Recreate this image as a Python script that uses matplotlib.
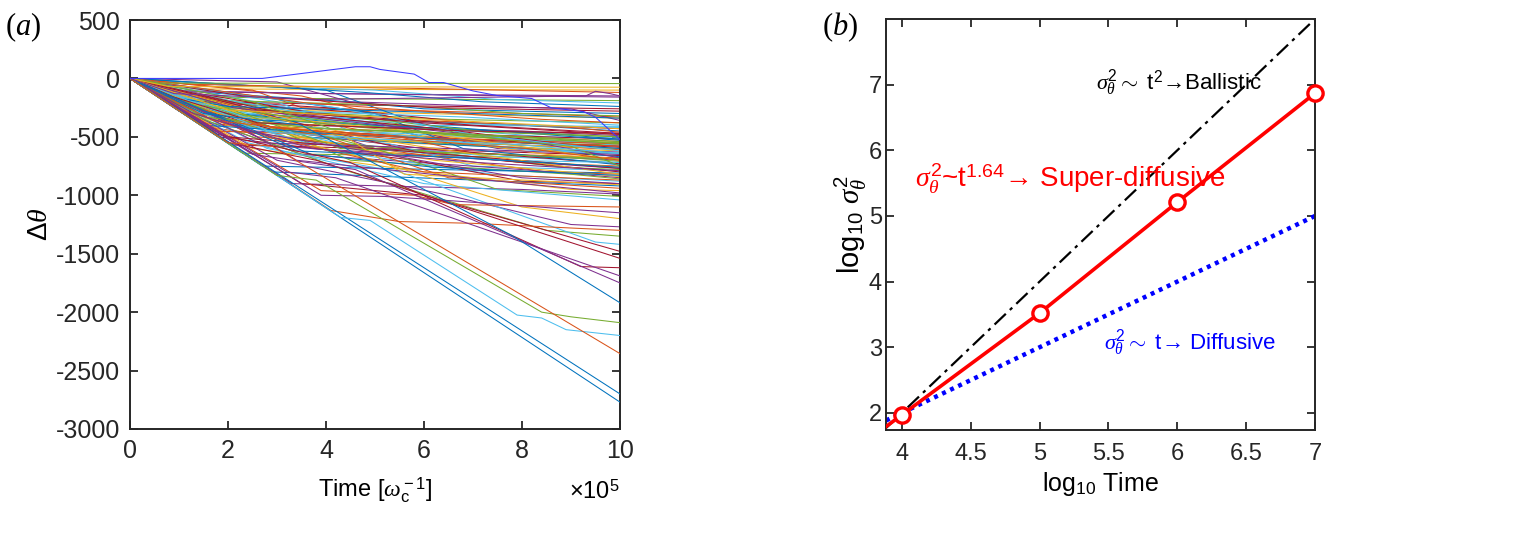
import matplotlib
matplotlib.use("Agg")
import matplotlib.pyplot as plt
import numpy as np

plt.rcParams['font.family'] = ['Liberation Sans', 'DejaVu Sans']
plt.rcParams['mathtext.fontset'] = 'custom'
plt.rcParams['mathtext.rm'] = 'Liberation Sans'
plt.rcParams['mathtext.it'] = 'Liberation Serif:italic'
plt.rcParams['mathtext.sf'] = 'Liberation Sans'
plt.rcParams['mathtext.bf'] = 'Liberation Sans:bold'
plt.rcParams['axes.unicode_minus'] = False

# ---------------- data: panel (a) ----------------
# time in units of 1e5 [omega_c^-1], each trajectory as (t, dtheta) breakpoints
trajectories = [
    [(0,0),(0.6,-40),(10,-44)],
    [(0,0),(0.8,-70),(10,-75)],
    [(0,0),(1.2,-90),(6,-95),(10,-100)],
    [(0,0),(0.5,-100),(4,-130),(10,-150)],
    [(0,0),(1.0,-150),(3,-170),(7,-180),(10,-190)],
    [(0,0),(2.0,-60),(5,-100),(7.5,-180),(10,-210)],
    [(0,0),(0.7,-190),(5,-230),(10,-260)],
    [(0,0),(1.5,-120),(4.5,-200),(6,-260),(10,-300)],
    [(0,0),(2.5,-100),(3.5,-250),(8,-300),(10,-330)],
    [(0,0),(1.0,-250),(6,-300),(10,-340)],
    [(0,0),(3,-30),(4.5,-200),(9,-260),(10,-360)],
    [(0,0),(1.2,-200),(3.0,-280),(6.5,-350),(10,-380)],
    [(0,0),(0.9,-250),(2.5,-300),(5.5,-400),(10,-410)],
    [(0,0),(2.0,-200),(4,-250),(7,-380),(10,-430)],
    [(0,0),(1.8,-300),(5,-350),(8,-400),(10,-450)],
    [(0,0),(3.5,-150),(5.5,-350),(9,-420),(10,-460)],
    [(0,0),(1.3,-350),(4,-400),(10,-480)],
    [(0,0),(2.2,-250),(3.5,-400),(8,-450),(10,-490)],
    [(0,0),(0.5,-120),(4,-300),(6,-420),(10,-500)],
    [(0,0),(2.8,-350),(6,-420),(8.5,-500),(10,-510)],
    [(0,0),(1.5,-200),(5,-300),(7,-480),(10,-520)],
    [(0,0),(4,-100),(6,-400),(10,-530)],
    [(0,0),(1.9,-400),(5.5,-450),(10,-540)],
    [(0,0),(1.1,-300),(3,-350),(4.5,-470),(10,-550)],
    [(0,0),(2.5,-450),(7,-520),(10,-560)],
    [(0,0),(1.6,-150),(3.2,-300),(6.5,-450),(8,-550),(10,-570)],
    [(0,0),(3,-200),(4.5,-450),(9.5,-550),(10,-580)],
    [(0,0),(0.8,-200),(2.5,-420),(6,-500),(10,-590)],
    [(0,0),(2,-300),(5,-400),(6.5,-550),(10,-600)],
    [(0,0),(1.4,-380),(4,-450),(8,-570),(10,-610)],
    [(0,0),(3.2,-500),(6,-560),(10,-620)],
    [(0,0),(2.4,-250),(5,-380),(7.5,-600),(10,-630)],
    [(0,0),(1.0,-270),(4,-500),(10,-640)],
    [(0,0),(4.5,-350),(6.5,-550),(10,-650)],
    [(0,0),(2.1,-570),(7,-620),(10,-660)],
    [(0,0),(1.7,-250),(3.5,-500),(8,-600),(10,-670)],
    [(0,0),(2.8,-300),(5.5,-500),(7,-640),(10,-680)],
    [(0,0),(1.2,-330),(6,-500),(8.5,-650),(10,-690)],
    [(0,0),(3.6,-400),(5,-600),(10,-700)],
    [(0,0),(2.3,-640),(9,-680),(10,-710)],
    [(0,0),(1.5,-300),(4.2,-550),(7.2,-660),(10,-720)],
    [(0,0),(0.9,-200),(3,-450),(6,-600),(9,-700),(10,-730)],
    [(0,0),(5,-300),(6.8,-600),(10,-740)],
    [(0,0),(2.6,-500),(5.5,-600),(8,-720),(10,-750)],
    [(0,0),(1.9,-350),(4.8,-620),(10,-760)],
    [(0,0),(3.0,-580),(7.5,-700),(10,-770)],
    [(0,0),(1.3,-250),(3.3,-520),(6,-620),(8.8,-760),(10,-780)],
    [(0,0),(2.0,-400),(5.3,-560),(7,-750),(10,-790)],
    [(0,0),(4,-450),(6,-640),(10,-800)],
    [(0,0),(2.7,-750),(10,-810)],
    [(0,0),(1.6,-420),(5,-600),(8.5,-800),(10,-820)],
    [(0,0),(3.4,-500),(6.2,-700),(10,-840)],
    [(0,0),(1.0,-280),(3.5,-650),(8,-780),(10,-850)],
    [(0,0),(2.2,-300),(4.5,-700),(9,-820),(10,-860)],
    [(0,0),(3.8,-600),(7.4,-820),(10,-880)],
    [(0,0),(1.8,-500),(5.8,-700),(8,-880),(10,-900)],
    [(0,0),(2.9,-800),(10,-920)],
    [(0,0),(1.4,-300),(4,-500),(6.5,-850),(10,-940)],
    [(0,0),(2.5,-600),(6,-800),(9,-950),(10,-960)],
    [(0,0),(3.3,-900),(8,-950),(10,-990)],
    [(0,0),(1.2,-200),(5,-600),(7.5,-950),(10,-1010)],
    [(0,0),(2.4,-550),(6,-900),(10,-1040)],
    [(0,0),(3.9,-960),(5.8,-1000),(6.6,-1080),(10,-1100)],
    [(0,0),(3.9,-1000),(5.2,-1010),(6.5,-1045),(10,-1150)],
    [(0,0),(4.1,-1130),(5.5,-1225),(7,-1240),(10,-1300)],
    [(0,0),(2.0,-400),(5,-700),(8,-1100),(10,-1200)],
    [(0,0),(3.0,-700),(6.5,-1000),(9,-1250),(10,-1270)],
    [(0,0),(1.5,-350),(4.5,-800),(8.5,-1300),(10,-1350)],
    [(0,0),(2.8,-600),(5.5,-800),(9.5,-1400),(10,-1420)],
    [(0,0),(3.5,-900),(6,-1000),(10,-1480)],
    [(0,0),(2.0,-550),(3.8,-700),(10,-1540)],
    [(0,0),(1.8,-480),(4.5,-720),(9.2,-1610),(10,-1620)],
    [(0,0),(3.2,-800),(4.2,-850),(10,-1690)],
    [(0,0),(2.5,-650),(4.6,-780),(10,-1750)],
    [(0,0),(1.5,-300),(3.5,-400),(7.8,-1346),(10,-1920)],
    [(0,0),(10,-2770)],
    [(0,0),(10,-2700)],
    [(0,0),(4.3,-1190),(4.9,-1215),(7.9,-2025),(8.4,-2050),(8.9,-2150),(10,-2200)],
    [(0,0),(3.0,-830),(3.8,-870),(8.4,-2000),(9.0,-2040),(10,-2090)],
    [(0,0),(2.0,-550),(2.9,-580),(10,-2355)],
    [(0,0),(0.4,-110),(8,-150),(10,-160)],
    [(0,0),(1.1,-180),(5.5,-230),(8,-300),(10,-320)],
    [(0,0),(2.2,-330),(5,-370),(10,-420)],
    [(0,0),(1.0,-100),(3.8,-300),(7,-400),(10,-470)],
    [(0,0),(0.6,-160),(2.4,-350),(8.5,-470),(10,-520)],
    [(0,0),(1.7,-450),(10,-560)],
    [(0,0),(3.0,-400),(4.7,-520),(10,-600)],
    [(0,0),(2.6,-550),(6.5,-600),(10,-650)],
    [(0,0),(1.3,-150),(4.3,-600),(10,-690)],
    [(0,0),(0.8,-220),(3.6,-550),(7.6,-700),(10,-720)],
    [(0,0),(2.0,-500),(8.5,-720),(10,-770)],
    [(0,0),(3.7,-650),(6.2,-760),(10,-830)],
    [(0,0),(1.0,-260),(2.8,-500),(6,-800),(10,-870)],
    [(0,0),(4.4,-500),(5.6,-820),(10,-910)],
    [(0,0),(2.2,-400),(3.4,-700),(8,-900),(10,-980)],
    [(0,0),(1.6,-280),(4.2,-400),(7,-500),(10,-550)],
    [(0,0),(1.9,-180),(3.3,-280),(6.8,-330),(10,-400)],
    [(0,0),(2.3,-150),(6.2,-250),(10,-280)],
    [(0,0),(4.8,-120),(7.2,-200),(10,-240)],
    [(0,0),(1.2,-50),(6.4,-90),(10,-120)],
    [(0,0),(0.9,-130),(3.8,-180),(9.3,-150),(9.5,-110),(9.8,-130),(10,-150)],
    [(0,0),(2.7,0),(4.6,100),(4.9,100),(5.1,77),(5.8,37),(6.1,-35),(6.4,-35),
     (7.0,-107),(7.5,-147),(8.2,-172),(8.6,-252),(9.25,-283),(9.5,-332),(10,-523)],
    [(0,0),(1.4,-230),(4.6,-330),(7.3,-460),(10,-500)],
    [(0,0),(2.7,-380),(5.4,-480),(8.3,-620),(10,-640)],
    [(0,0),(3.1,-300),(6.3,-430),(8.8,-560),(10,-580)],
    [(0,0),(1.5,-400),(4.4,-480),(9.3,-580),(10,-600)],
    [(0,0),(0.7,-180),(2.9,-420),(6.0,-520),(10,-580)],
    [(0,0),(3.3,-350),(5.7,-450),(10,-700)],
    [(0,0),(2.1,-250),(4.0,-350),(7.9,-520),(10,-680)],
    [(0,0),(1.1,-220),(5.2,-420),(9,-580),(10,-750)],
    [(0,0),(4.2,-250),(7.0,-480),(10,-620)],
    [(0,0),(2.6,-270),(6.0,-380),(10,-480)],
    [(0,0),(0.6,-140),(2.0,-240),(7.0,-300),(10,-340)],
    [(0,0),(3.6,-210),(8.4,-350),(10,-380)],
    [(0,0),(1.8,-300),(5.9,-580),(10,-820)],
    [(0,0),(2.4,-450),(4.5,-600),(8.0,-850),(10,-900)],
    [(0,0),(1.5,-330),(3.9,-430),(6.6,-470),(10,-540)],
    [(0,0),(2.9,-460),(5.1,-520),(7.7,-560),(10,-640)],
    [(0,0),(0.9,-160),(2.6,-380),(6.9,-450),(10,-470)],
    [(0,0),(3.4,-620),(6.8,-680),(10,-760)],
    [(0,0),(1.7,-360),(4.9,-500),(8.1,-600),(10,-700)],
    [(0,0),(2.0,-270),(5.6,-340),(10,-430)],
    [(0,0),(1.3,-300),(3.7,-600),(7.1,-720),(10,-790)],
    [(0,0),(2.5,-200),(4.1,-430),(8.7,-520),(10,-560)],
]

matlab_colors = ['#0072BD', '#D95319', '#EDB120', '#7E2F8E', '#77AC30', '#4DBEEE', '#A2142F']
# colours of individually visible trajectories, as seen in the picture
special_colors = {74: '#0072BD', 75: '#0072BD', 76: '#0072BD', 77: '#4DBEEE',
                  78: '#77AC30', 79: '#D95319', 101: '#3b3bff',
                  100: '#7E2F8E', 72: '#7E2F8E', 73: '#7E2F8E', 70: '#A2142F', 71: '#A2142F',
                  0: '#77AC30', 1: '#EDB120', 62: '#D95319', 63: '#7E2F8E', 64: '#D95319'}

# ---------------- data: panel (b) ----------------
log_t = [4, 5, 6, 7]
log_var = [1.97, 3.52, 5.21, 6.87]
ballistic_x = [3.885, 7.0]
ballistic_y = [1.77, 8.0]
diffusive_x = [3.885, 7.0]
diffusive_y = [1.885, 5.0]

W, H = 1519, 557
fig = plt.figure(figsize=(W/100, H/100), dpi=100)

ax1 = fig.add_axes([130/W, 1-429/H, (620-130)/W, (429-20)/H])
ax2 = fig.add_axes([886/W, 1-430/H, (1315-886)/W, (430-19)/H])

for i, tr in enumerate(trajectories):
    t = [p[0] for p in tr]
    v = [p[1] for p in tr]
    c = special_colors.get(i, matlab_colors[i % 7])
    ax1.plot(t, v, color=c, lw=0.75, zorder=2 if i not in special_colors else 3)

ax1.set_xlim(0, 10)
ax1.set_ylim(-3000, 500)
ax1.set_xticks([0, 2, 4, 6, 8, 10])
ax1.set_yticks(np.arange(-3000, 501, 500))
ax1.set_xlabel(r'Time [$\omega_{\rm c}^{\rm -1}$]', fontsize=17, labelpad=9)
ax1.set_ylabel(r'$\Delta\theta$', fontsize=20, labelpad=2)

# panel b
ax2.plot(ballistic_x, ballistic_y, color='black', lw=1.6, ls=(0, (7, 2.5, 1.5, 2.5)), zorder=2)
ax2.plot(diffusive_x, diffusive_y, color='#0000ff', lw=3.2, ls=(0, (0.9, 1.1)), zorder=2)
slope0 = (log_var[1] - log_var[0]) / (log_t[1] - log_t[0])
ext_x = [3.80, log_t[0]]
ext_y = [log_var[0] - slope0 * (log_t[0] - 3.80), log_var[0]]
ax2.plot(ext_x, ext_y, color='#ff0000', lw=2.6, zorder=3)
ax2.plot(log_t, log_var, color='#ff0000', lw=2.6, marker='o', ms=11, mfc='white',
         mec='#ff0000', mew=2.4, zorder=4, clip_on=False)
ax2.set_xlim(3.885, 7.0)
ax2.set_ylim(1.74, 8.0)
ax2.set_xticks([4, 4.5, 5, 5.5, 6, 6.5, 7])
ax2.set_xticklabels(['4', '4.5', '5', '5.5', '6', '6.5', '7'])
ax2.set_yticks([2, 3, 4, 5, 6, 7])
ax2.set_xlabel(r'log$_{10}$ Time', fontsize=18, labelpad=4)
ax2.set_ylabel(r'log$_{10}$ $\sigma_\theta^2$', fontsize=21, labelpad=0)

ax2.text(5.41, 6.93, r'$\sigma_\theta^2$$\sim$ t$^2$→Ballistic', color='black', fontsize=16,
         ha='left', va='baseline')
ax2.text(4.097, 5.44, r'$\sigma_\theta^2$~t$^{1.64}$→ Super-diffusive', color='#ff0000', fontsize=20,
         ha='left', va='baseline')
ax2.text(5.47, 2.96, r'$\sigma_\theta^2$$\sim$ t→ Diffusive', color='#0000ff', fontsize=16,
         ha='left', va='baseline')

for ax in (ax1, ax2):
    for s in ax.spines.values():
        s.set_linewidth(1.4)
        s.set_color('#262626')
ax1.tick_params(direction='in', top=True, right=True, length=6, width=1.3,
                labelsize=18, color='#262626', labelcolor='#262626', pad=7)
ax2.tick_params(direction='in', top=True, right=True, length=6, width=1.3,
                labelsize=17, color='#262626', labelcolor='#262626')
ax2.tick_params(axis='x', pad=9)
ax2.tick_params(axis='y', pad=3)

fig.canvas.draw()
lb = ax1.xaxis.label.get_window_extent()
fig.text(620/W, (lb.y0 + 6)/H, r'$\times$10$^{5}$', ha='right', va='baseline', fontsize=17)

fig.text(5/W, 1-27/H, r'($\mathit{a}$)', fontsize=22, family='Liberation Serif', va='center', ha='left')
fig.text(822/W, 1-27/H, r'($\mathit{b}$)', fontsize=22, family='Liberation Serif', va='center', ha='left')

fig.savefig('out.png', dpi=100)
